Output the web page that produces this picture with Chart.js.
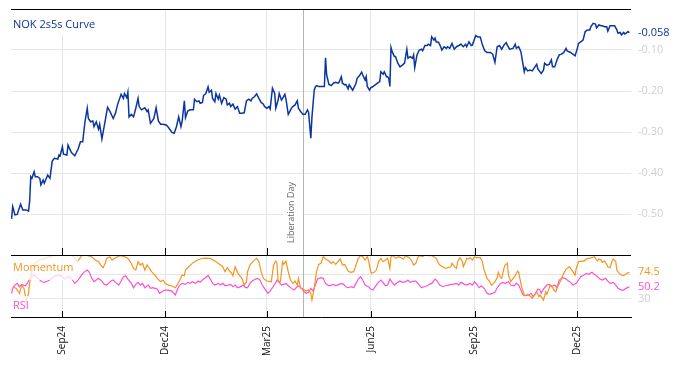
<!DOCTYPE html>
<html>
<head>
<meta charset="utf-8">
<script src="https://cdn.jsdelivr.net/npm/chart.js@4.4.1/dist/chart.umd.min.js"></script>
<style>
  body { margin: 0; background: #fff; }
</style>
</head>
<body>
<canvas id="mycanvas" width="678" height="366"></canvas>
<script>
// days counted from 2024-09-01
var tickDays = [0, 91, 181, 273, 365, 456];
var tickLabels = ['Sep24', 'Dec24', 'Mar25', 'Jun25', 'Sep25', 'Dec25'];
var eventDay = 213;
var eventLabel = 'Liberation Day';

var curveDays = [-45,-44,-42,-40,-37,-35,-32,-30,-29,-28,-27,-25,-24,-22,-20,-19,-17,-16,-13,-11,-9,-7,-4,-3,-2,0,1,4,5,8,11,14,16,18,20,22,23,25,27,28,30,32,33,35,38,40,42,45,47,49,52,54,55,57,58,59,61,63,65,67,68,70,73,75,76,78,81,83,85,87,89,92,94,97,99,101,103,105,106,108,109,111,113,116,117,119,121,122,124,125,127,129,130,132,133,135,136,138,139,141,143,145,146,148,149,151,153,155,157,159,161,163,165,167,168,170,172,174,176,178,179,181,183,184,186,188,189,191,192,194,195,197,198,200,203,204,206,208,209,211,213,215,217,218,220,221,223,224,225,227,230,232,233,234,236,238,240,242,244,245,247,248,250,251,253,254,255,257,258,260,261,263,265,266,268,269,270,272,273,275,277,279,281,282,284,285,287,288,289,290,291,292,294,295,297,299,301,303,305,306,308,310,311,312,314,316,318,319,321,323,324,326,327,329,330,331,333,335,336,338,340,341,343,345,347,349,351,353,355,357,358,360,362,363,366,368,370,372,374,376,379,381,383,385,387,389,391,393,394,396,399,401,402,404,406,408,409,410,412,414,416,418,420,421,424,426,427,429,431,433,434,436,438,440,442,444,446,447,450,452,454,456,457,459,461,463,465,467,468,470,472,473,475,477,478,480,482,483,485,487,489,491,492,494,495,497,498,501,502];
var curveVals = [-0.512,-0.482,-0.502,-0.501,-0.476,-0.490,-0.490,-0.493,-0.470,-0.409,-0.413,-0.397,-0.409,-0.409,-0.413,-0.429,-0.417,-0.425,-0.405,-0.413,-0.371,-0.364,-0.366,-0.356,-0.358,-0.336,-0.354,-0.356,-0.332,-0.350,-0.358,-0.341,-0.324,-0.324,-0.275,-0.242,-0.267,-0.275,-0.273,-0.287,-0.275,-0.293,-0.281,-0.317,-0.271,-0.240,-0.249,-0.267,-0.254,-0.232,-0.208,-0.218,-0.206,-0.216,-0.203,-0.263,-0.257,-0.263,-0.242,-0.218,-0.238,-0.246,-0.241,-0.250,-0.246,-0.279,-0.267,-0.241,-0.273,-0.281,-0.281,-0.283,-0.289,-0.301,-0.303,-0.287,-0.263,-0.287,-0.275,-0.224,-0.265,-0.249,-0.246,-0.246,-0.220,-0.226,-0.224,-0.230,-0.228,-0.211,-0.206,-0.190,-0.203,-0.198,-0.218,-0.226,-0.206,-0.220,-0.210,-0.230,-0.216,-0.220,-0.234,-0.230,-0.238,-0.232,-0.244,-0.238,-0.254,-0.254,-0.253,-0.224,-0.220,-0.224,-0.218,-0.214,-0.207,-0.218,-0.228,-0.232,-0.238,-0.242,-0.238,-0.244,-0.193,-0.206,-0.242,-0.222,-0.206,-0.222,-0.218,-0.208,-0.220,-0.257,-0.241,-0.238,-0.234,-0.224,-0.242,-0.250,-0.257,-0.257,-0.246,-0.252,-0.315,-0.263,-0.198,-0.190,-0.187,-0.189,-0.189,-0.189,-0.119,-0.161,-0.184,-0.187,-0.181,-0.179,-0.181,-0.179,-0.165,-0.181,-0.185,-0.184,-0.195,-0.185,-0.189,-0.198,-0.193,-0.181,-0.169,-0.163,-0.154,-0.161,-0.173,-0.165,-0.189,-0.198,-0.192,-0.189,-0.185,-0.181,-0.177,-0.153,-0.159,-0.153,-0.165,-0.165,-0.169,-0.189,-0.094,-0.104,-0.116,-0.116,-0.132,-0.141,-0.137,-0.132,-0.098,-0.120,-0.116,-0.120,-0.112,-0.143,-0.112,-0.100,-0.098,-0.102,-0.089,-0.089,-0.086,-0.089,-0.068,-0.076,-0.071,-0.080,-0.081,-0.092,-0.100,-0.092,-0.096,-0.092,-0.096,-0.084,-0.098,-0.092,-0.089,-0.086,-0.092,-0.086,-0.092,-0.080,-0.089,-0.088,-0.065,-0.068,-0.068,-0.088,-0.102,-0.106,-0.106,-0.110,-0.130,-0.092,-0.089,-0.098,-0.088,-0.082,-0.088,-0.098,-0.096,-0.086,-0.096,-0.092,-0.104,-0.137,-0.153,-0.143,-0.151,-0.149,-0.151,-0.143,-0.135,-0.146,-0.157,-0.149,-0.132,-0.137,-0.135,-0.124,-0.141,-0.141,-0.124,-0.112,-0.110,-0.106,-0.096,-0.102,-0.106,-0.110,-0.114,-0.096,-0.084,-0.080,-0.076,-0.055,-0.051,-0.051,-0.043,-0.035,-0.037,-0.046,-0.039,-0.041,-0.041,-0.043,-0.043,-0.054,-0.041,-0.041,-0.041,-0.051,-0.059,-0.057,-0.063,-0.057,-0.061,-0.055,-0.058];

var momDays = [-44,-41,-38,-36,-34,-32,-30,-29,-27,-24,-20,-15,-11,-7,-2,2,7,10,13,15,17,21,26,29,32,34,36,38,39,42,44,47,51,55,58,61,63,65,67,69,71,73,75,77,79,82,84,87,89,91,94,97,100,102,104,106,108,109,112,115,118,122,126,131,135,138,142,144,146,148,150,151,153,155,157,159,161,163,164,166,169,172,174,176,178,181,185,187,189,190,191,193,195,196,198,200,202,204,206,208,209,211,213,216,218,220,221,223,225,227,229,231,233,236,238,240,242,244,246,248,250,253,255,258,260,262,264,266,268,270,271,273,274,276,278,280,282,283,284,286,288,290,291,293,295,298,300,302,304,307,309,311,313,315,317,319,321,324,327,329,331,333,335,337,339,341,344,345,347,349,350,352,354,355,357,358,360,361,363,365,367,370,372,373,375,376,378,380,382,383,385,386,388,389,391,392,394,395,397,398,401,403,404,406,407,409,410,412,415,416,418,420,422,423,425,426,428,429,431,432,434,435,437,438,440,442,444,446,449,450,452,454,455,457,459,462,464,466,469,471,472,474,475,477,478,480,482,483,485,487,488,490,491,493,495,497,499,500,502];
var momVals = [50.5,47.7,39.4,53.2,47.7,25.5,39.4,56,75.5,89.4,95,97.7,100.5,103,103,103,103,100.5,92.1,96.6,102.1,103,100.5,94.9,92.1,86.6,82.1,89.4,97.7,100.5,94.9,98.8,102.1,100.5,97.7,89.4,81,78.2,92.1,86.6,89.4,78.2,86.6,81,75.5,69.9,64.4,58.8,61.6,56,53.2,51.6,48.8,54.4,61.6,69.9,68.8,78.2,83.8,89.4,93.2,96.6,98.2,97.7,93.2,89.4,83.8,75.5,82.1,76.6,72.7,68.8,83.8,74.4,68.8,64.4,53.2,58.8,75.5,86.6,93.2,97.7,92.1,75.5,64.4,59.9,58.8,86.6,93.2,89.4,59.9,58.8,92.1,87.7,93.2,75.5,61.6,56,59.9,53.2,64.4,47.7,46.6,43.2,45,39.4,28.2,47.7,75.5,87.7,89.4,100.5,96.6,93.2,89.4,92.1,87.7,92.1,96.6,86.6,87.7,76.6,74.4,75.5,86.6,97.7,102.1,100.5,94.9,100.5,94.9,75.5,72.7,74.4,78.2,92.1,97.7,94.9,92.1,94.9,97.7,81,100.5,102.1,97.7,100.5,98.8,96.6,102.1,98.8,94.9,86.6,89.4,100.5,102.1,100.5,103,102.1,102.1,100.5,97.7,89.4,85.5,83.8,81,82.1,83.8,89.4,83.8,81,92.1,98.8,93.2,83.8,92.1,97.7,96.6,98.8,94.9,100.5,98.8,98.8,92.1,81,69.9,64.4,59.9,53.2,56,58.8,65.5,74.4,65.5,64.4,81,86.6,89.4,69.9,58.8,61.6,68.8,76.6,74.4,56,47.7,36.6,35.5,37.7,33.8,31,36.6,42.1,33.8,36.6,31,28.2,42.1,37.7,47.7,53.2,50.5,44.9,42.1,48.8,56,64.4,72.7,79.9,83.8,81,75.5,69.9,81,92.1,93.2,93.2,96.6,97.7,98.8,100.5,97.7,93.2,96.6,94.9,91,93.2,87.7,83.8,82.1,94.9,96.6,92.1,78.2,72.7,69.9,68.8,71,72.7,74.5];

var rsiDays = [-45,-44,-42,-40,-38,-36,-33,-31,-29,-27,-25,-23,-21,-18,-16,-13,-10,-8,-5,-2,0,2,5,7,9,11,13,15,17,19,22,24,26,28,30,32,35,37,39,41,43,45,47,50,52,54,56,58,61,63,65,67,69,71,73,76,78,80,82,84,86,89,91,94,97,100,102,104,106,109,111,113,115,118,120,122,124,126,129,131,133,135,138,140,142,144,147,149,151,153,155,158,160,162,164,166,168,171,173,175,177,180,182,184,186,189,190,192,194,196,198,200,203,205,207,209,212,214,216,218,220,222,224,226,229,231,233,236,238,240,242,245,247,249,251,253,256,258,260,262,264,266,268,271,273,275,277,279,282,284,286,288,290,292,294,297,299,301,304,306,308,311,313,316,318,320,323,325,327,330,332,334,337,339,342,344,346,349,351,353,356,358,361,363,365,367,369,371,374,376,378,381,383,385,388,390,392,395,397,400,402,404,406,408,410,413,415,417,419,421,423,424,426,429,431,433,436,438,440,443,445,447,450,452,455,457,459,462,464,466,469,471,473,476,478,481,483,485,488,490,492,495,497,499,502];
var rsiVals = [39.4,47.7,53.2,56,50.5,54.4,52.1,56,64.4,67.1,69.9,67.1,63.2,58.8,57.7,59.9,63.2,67.1,68.8,69.9,67.1,63.2,67.1,65.5,61.6,56,59.9,64.4,69.9,74.4,78.2,74.4,64.4,58.8,61.6,64.4,59.9,54.4,53.2,56,59.9,61.6,57.7,53.2,59.9,67.1,68.8,63.2,56,48.8,54.4,57.7,53.2,56,48.8,53.2,47.7,48.8,47.7,46.6,39.4,43.2,44.9,44.9,43.2,36.6,46.6,53.2,56,54.4,57.7,56,58.8,56,59.9,57.7,61.6,64.4,68.8,63.2,56,53.2,56,53.2,56,52.1,53.2,54.4,50.5,53.2,48.8,50.5,53.2,48.8,48.8,56,59.9,63.2,64.4,61.6,53.2,44.9,39.4,43.2,48.8,57.7,61.6,57.7,53.2,54.4,56,52.1,47.7,44.9,48.8,52.1,47.7,42.1,39.4,41,47.7,43.2,53.2,63.2,65.5,64.4,56,52.1,53.2,54.4,52.1,54.4,56,54.4,50.5,48.8,50.5,48.8,56,63.2,67.1,61.6,53.2,50.5,46.6,44.9,50.5,56,61.6,57.7,52.1,53.2,63.2,57.7,53.2,57.7,59.9,57.7,58.8,61.6,57.7,59.9,59.9,53.2,48.8,50.5,52.1,54.4,56,63.2,59.9,53.2,50.5,52.1,53.2,54.4,54.4,56,53.2,57.7,54.4,53.2,56,53.2,58.8,54.4,48.8,52.1,46.6,39.4,37.7,39.4,41,48.8,56,57.7,56,58.8,53.2,52.1,56,53.2,44.9,36.6,35.5,36.6,39.4,33.8,39.4,46.6,44.9,39.4,46.6,53.2,54.4,50.5,53.2,48.8,61.6,65.5,64.4,61.6,57.7,53.2,56,61.6,67.1,69.9,72.7,71,74.4,71,68.8,63.2,61.6,64.4,59.9,56,57.7,53.2,47.7,44.9,44.9,47.7,50.2];

function pts(days, vals) {
  var out = [];
  for (var i in days) {
    out.push({x: days[i], y: vals[i]});
  }
  return out;
}

var blue = '#0b35a2';
var orange = '#f7931e';
var pink = '#ff4fd6';
var gridCol = '#e6e6e6';

Chart.defaults.font.family = "'Open Sans', sans-serif";
Chart.defaults.font.size = 11;

// drop the extra room Chart.js keeps for edge tick labels
function fitY(scale) {
  scale.width = 47;
  scale.paddingTop = 0;
  scale.paddingBottom = 0;
}

var overlay = {
  id: 'overlay',
  beforeDatasetsDraw: function(chart) {
    var ctx = chart.ctx, a = chart.chartArea;
    var ex = Math.round(chart.scales.x.getPixelForValue(eventDay)) + 0.5;
    ctx.save();
    ctx.fillStyle = '#fff';
    ctx.fillRect(ex - 20, a.top + 165, 19, 72);
    ctx.strokeStyle = '#b5b5b5';
    ctx.lineWidth = 1;
    ctx.beginPath();
    ctx.moveTo(ex, a.top);
    ctx.lineTo(ex, a.bottom);
    ctx.stroke();
    ctx.translate(ex - 12, a.top + 234);
    ctx.rotate(-Math.PI / 2);
    ctx.font = "9px 'Open Sans'";
    ctx.fillStyle = '#666';
    ctx.textAlign = 'left';
    ctx.textBaseline = 'middle';
    ctx.fillText(eventLabel, 0, 0);
    ctx.restore();
  },
  afterDatasetsDraw: function(chart) {
    var ctx = chart.ctx, a = chart.chartArea;
    var x = chart.scales.x, y = chart.scales.y, y2 = chart.scales.y2;
    ctx.save();
    // label backgrounds
    ctx.fillStyle = 'rgba(255,255,255,0.75)';
    ctx.fillRect(a.left, y2.top + 1, 67, 24);
    ctx.fillRect(a.left, y2.bottom - 21, 19, 16);
    ctx.fillStyle = '#fff';
    ctx.fillRect(a.left, a.top + 1, 86, 25);
    // panel frame lines and inner ticks
    ctx.strokeStyle = '#000';
    ctx.lineWidth = 1;
    ctx.beginPath();
    [a.top, y.bottom].forEach(function(py) {
      py = Math.round(py) + 0.5;
      ctx.moveTo(a.left, py);
      ctx.lineTo(a.right, py);
    });
    tickDays.forEach(function(d) {
      var px = Math.round(x.getPixelForValue(d)) + 0.5;
      ctx.moveTo(px, y.bottom);
      ctx.lineTo(px, y.bottom - 7);
      ctx.moveTo(px, y2.bottom);
      ctx.lineTo(px, y2.bottom - 6);
    });
    ctx.stroke();
    // texts
    ctx.font = "11px 'Open Sans'";
    ctx.textAlign = 'left';
    ctx.textBaseline = 'middle';
    ctx.fillStyle = blue;
    ctx.fillText('NOK 2s5s Curve', a.left + 2, a.top + 16);
    ctx.fillStyle = orange;
    ctx.fillText('Momentum', a.left + 2, y2.top + 13);
    ctx.fillStyle = pink;
    ctx.fillText('RSI', a.left + 2, y2.bottom - 11);
    // last values
    var lx = a.right + 7;
    var lc = curveVals[curveVals.length - 1];
    var lm = momVals[momVals.length - 1];
    var lr = rsiVals[rsiVals.length - 1];
    ctx.fillStyle = blue;
    ctx.fillText(lc.toFixed(3), lx, y.getPixelForValue(lc));
    ctx.fillStyle = orange;
    ctx.fillText(lm.toFixed(1), lx, y2.getPixelForValue(lm));
    ctx.fillStyle = pink;
    ctx.fillText(lr.toFixed(1), lx, y2.getPixelForValue(lr));
    ctx.restore();
  }
};

var ctx = document.getElementById('mycanvas');
var chart = new Chart(ctx, {
  type: 'line',
  data: {
    datasets: [
      {
        label: 'NOK 2s5s Curve',
        data: pts(curveDays, curveVals),
        borderColor: blue,
        borderWidth: 1.5,
        pointRadius: 0,
        yAxisID: 'y'
      },
      {
        label: 'Momentum',
        data: pts(momDays, momVals),
        borderColor: orange,
        borderWidth: 1.2,
        pointRadius: 0,
        yAxisID: 'y2'
      },
      {
        label: 'RSI',
        data: pts(rsiDays, rsiVals),
        borderColor: pink,
        borderWidth: 1.2,
        pointRadius: 0,
        yAxisID: 'y2'
      }
    ]
  },
  options: {
    responsive: false,
    animation: false,
    events: [],
    layout: { padding: { left: 11, top: 9, right: 0, bottom: 0 } },
    plugins: {
      legend: { display: false },
      tooltip: { enabled: false }
    },
    scales: {
      x: {
        type: 'linear',
        min: -45.5,
        max: 503.5,
        afterBuildTicks: function(scale) {
          scale.ticks = tickDays.map(function(d) { return {value: d}; });
        },
        afterFit: function(scale) {
          scale.height = 49;
          scale.paddingLeft = 0;
          scale.paddingRight = 0;
        },
        ticks: {
          autoSkip: false,
          maxRotation: 90,
          minRotation: 90,
          padding: 9,
          color: '#111',
          font: { size: 10 },
          callback: function(v, i) { return tickLabels[i]; }
        },
        grid: { color: gridCol, drawTicks: false },
        border: { color: '#000', width: 1 }
      },
      y: {
        type: 'linear',
        position: 'right',
        stack: 'panels',
        stackWeight: 246,
        min: -0.6,
        max: 0,
        afterBuildTicks: function(scale) {
          scale.ticks = [-0.5, -0.4, -0.3, -0.2, -0.1].map(function(v) { return {value: v}; });
        },
        afterFit: fitY,
        ticks: {
          autoSkip: false,
          padding: 7,
          color: '#cfcfcf',
          callback: function(v) { return v.toFixed(2); }
        },
        grid: { color: gridCol, drawTicks: false },
        border: { display: false }
      },
      y2: {
        type: 'linear',
        position: 'right',
        stack: 'panels',
        stackWeight: 62,
        min: 0,
        max: 103.3,
        afterBuildTicks: function(scale) {
          scale.ticks = [30, 70].map(function(v) { return {value: v}; });
        },
        afterFit: fitY,
        ticks: {
          autoSkip: false,
          padding: 7,
          color: '#cfcfcf',
          callback: function(v) { return v === 70 ? '' : String(v); }
        },
        grid: { color: gridCol, drawTicks: false },
        border: { display: false }
      }
    }
  },
  plugins: [overlay]
});
</script>
</body>
</html>
